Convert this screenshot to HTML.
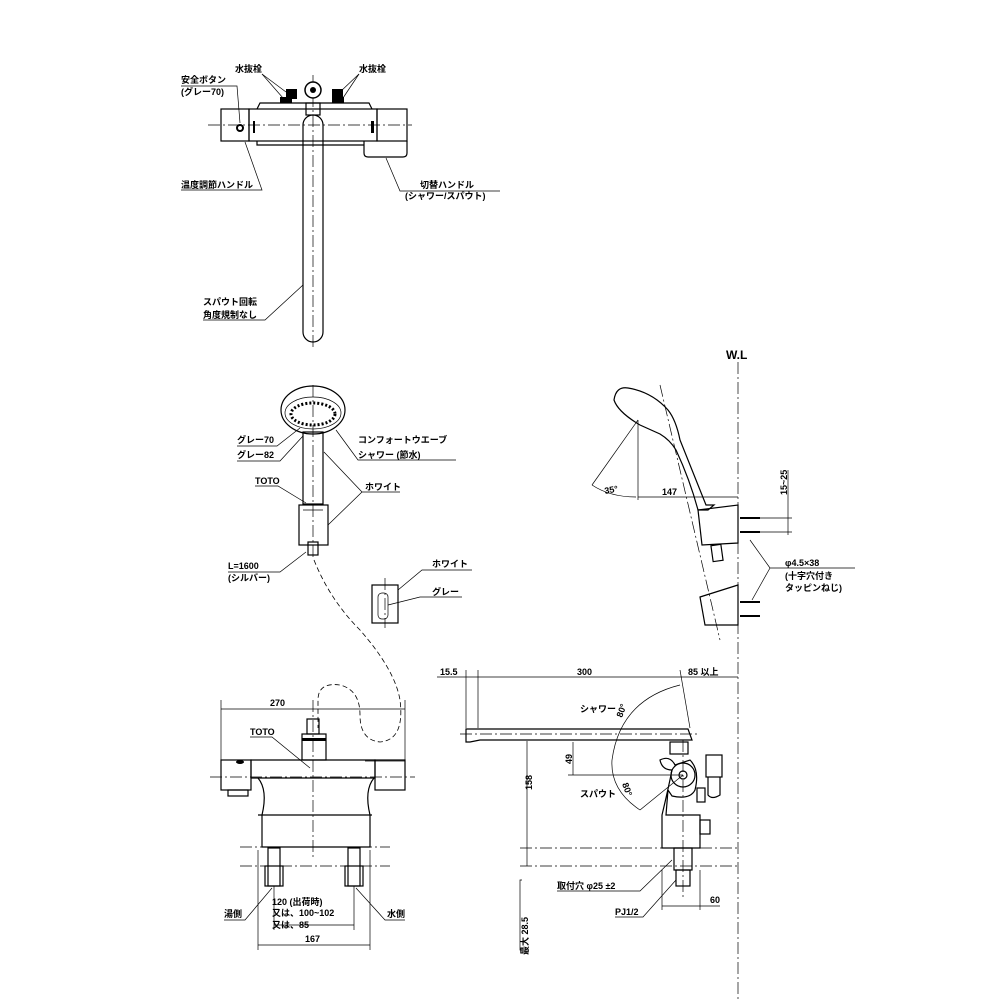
<!DOCTYPE html>
<html><head><meta charset="utf-8"><style>
body{margin:0;background:#fff}
svg{display:block}
text{font-family:"Liberation Sans","Noto Sans CJK JP",sans-serif;font-size:9px;font-weight:bold;fill:#000}
.l{stroke:#000;stroke-width:1.2;fill:none}
.t{stroke:#000;stroke-width:0.7;fill:none}
.c{stroke:#000;stroke-width:0.7;fill:none;stroke-dasharray:12 3 2 3}
.d{stroke:#000;stroke-width:0.8;fill:none;stroke-dasharray:5 3}
</style></head><body>
<svg width="1000" height="1000" viewBox="0 0 1000 1000" xmlns="http://www.w3.org/2000/svg">
<!-- TOP VIEW -->
<line class="c" x1="208" y1="125" x2="412" y2="125"/>
<line class="c" x1="313" y1="75" x2="313" y2="348"/>
<rect class="l" x="221" y="109" width="28" height="32"/>
<rect class="l" x="249" y="109" width="128" height="32"/>
<rect class="l" x="377" y="109" width="30" height="32"/>
<path class="l" d="M257 109 L260 103 L369 103 L372 109"/>
<path class="l" d="M257 141 V145 H364"/>
<path class="l" d="M364 141 V153 Q364 157 368 157 H403 Q407 157 407 153 V141"/>
<rect class="l" x="303" y="115" width="20" height="227" rx="10" fill="#fff"/>
<rect class="l" x="306" y="103" width="14" height="12" fill="#fff"/>
<circle cx="313" cy="90" r="8" fill="#fff" stroke="#000" stroke-width="1.5"/>
<circle cx="313" cy="90" r="3" fill="#000"/>
<rect x="286" y="89" width="11" height="10" fill="#000"/><rect x="280" y="97" width="12" height="6" fill="#000"/>
<rect x="332" y="89" width="11" height="10" fill="#000"/><rect x="332" y="97" width="12" height="6" fill="#000"/>
<circle cx="240" cy="128" r="3" fill="none" stroke="#000" stroke-width="2"/>
<rect x="253" y="121" width="2" height="12" fill="#000"/><rect x="371" y="121" width="3" height="12" fill="#000"/>
<text x="181" y="83">安全ボタン</text><text x="181" y="95">(グレー70)</text>
<polyline class="t" points="181,86 237,86 240,123"/>
<text x="235" y="72">水抜栓</text><polyline class="t" points="262,74 286,92"/><line class="t" x1="262" y1="74" x2="283" y2="98"/>
<text x="359" y="72">水抜栓</text><polyline class="t" points="359,74 340,92"/><line class="t" x1="359" y1="74" x2="343" y2="98"/>
<text x="181" y="188">温度調節ハンドル</text><polyline class="t" points="181,190 262,190 245,142"/>
<text x="420" y="188">切替ハンドル</text><text x="405" y="199">(シャワー/スパウト)</text>
<polyline class="t" points="500,191 400,191 386,158"/>
<text x="203" y="305">スパウト回転</text><text x="203" y="318">角度規制なし</text>
<polyline class="t" points="203,320 265,320 303,285"/>

<!-- SHOWER -->
<ellipse class="l" cx="313" cy="410" rx="32" ry="24"/>
<ellipse class="t" cx="313" cy="413" rx="28" ry="16"/>
<ellipse cx="313" cy="414" rx="22" ry="11" fill="none" stroke="#000" stroke-width="3" stroke-dasharray="2 2"/>
<rect class="l" x="303" y="432" width="20" height="72" fill="#fff"/>
<rect class="l" x="299" y="505" width="29" height="40" fill="#fff"/>
<line class="t" x1="303" y1="510" x2="323" y2="510"/>
<rect class="l" x="308" y="542" width="10" height="13" fill="#fff"/>
<line class="c" x1="313" y1="385" x2="313" y2="560"/>
<path class="d" d="M314 560 Q330 600 360 630 Q395 670 400 700 Q405 740 380 742 Q360 740 360 715 Q360 690 340 685 Q318 682 318 700 V728"/>
<text x="237" y="443">グレー70</text><text x="237" y="458">グレー82</text>
<polyline class="t" points="237,446 277,446 300,428"/><polyline class="t" points="237,461 280,461 303,436"/>
<text x="358" y="443">コンフォートウエーブ</text><text x="358" y="458">シャワー (節水)</text>
<polyline class="t" points="456,460 358,460 336,430"/>
<text x="255" y="484">TOTO</text><polyline class="t" points="255,486 278,486 306,503"/>
<text x="365" y="490">ホワイト</text><polyline class="t" points="400,492 362,492 324,452"/><line class="t" x1="362" y1="492" x2="328" y2="525"/>
<text x="228" y="569">L=1600</text><text x="228" y="581">(シルバー)</text>
<polyline class="t" points="228,572 280,572 306,552"/>
<rect class="l" x="372" y="585" width="26" height="38"/>
<rect class="t" x="378" y="593" width="10" height="26" rx="4"/>
<line class="c" x1="385" y1="578" x2="385" y2="628"/>
<text x="432" y="567">ホワイト</text><polyline class="t" points="472,570 422,570 398,590"/>
<text x="432" y="595">グレー</text><polyline class="t" points="462,597 420,597 388,605"/>

<!-- SIDE VIEW shower -->
<text x="726" y="359" style="font-size:12px">W.L</text>
<line class="c" x1="738" y1="362" x2="738" y2="1000"/>
<path class="l" d="M614 400 Q616 386 628 388 Q652 392 668 410 Q676 420 680 440 Q692 470 706 505 L714 505 L708 510 L698 510 Q690 480 676 450 Q670 440 660 434 L640 425 Q618 412 614 400Z"/>
<polygon class="l" points="698,510 738,505 738,543 702,545"/>
<rect class="l" x="712" y="545" width="10" height="16" transform="rotate(-8 717 553)"/>
<polygon class="l" points="700,597 738,585 738,625 705,625"/>
<g stroke="#000" stroke-width="2"><line x1="740" y1="518" x2="760" y2="518"/><line x1="740" y1="532" x2="760" y2="532"/><line x1="740" y1="602" x2="760" y2="602"/><line x1="740" y1="616" x2="760" y2="616"/></g>
<line class="c" x1="660" y1="385" x2="720" y2="640"/>
<line class="t" x1="638" y1="420" x2="638" y2="500"/>
<line class="t" x1="638" y1="420" x2="592" y2="485"/>
<path class="t" d="M592 485 Q610 497 636 497"/>
<line class="t" x1="638" y1="497" x2="738" y2="497"/>
<text x="605" y="494" transform="rotate(-10 605 494)">35°</text>
<text x="662" y="495">147</text>
<line class="t" x1="788" y1="470" x2="788" y2="535"/><line class="t" x1="760" y1="518" x2="792" y2="518"/><line class="t" x1="760" y1="532" x2="792" y2="532"/>
<text x="787" y="495" transform="rotate(-90 787 495)">15~25</text>
<text x="785" y="566">φ4.5×38</text><text x="785" y="579">(十字穴付き</text><text x="785" y="591">タッピンねじ)</text>
<polyline class="t" points="855,568 770,568 750,540"/><line class="t" x1="770" y1="568" x2="752" y2="600"/>

<!-- FRONT VIEW -->
<line class="t" x1="221" y1="700" x2="221" y2="760"/><line class="t" x1="405" y1="700" x2="405" y2="760"/>
<line class="t" x1="221" y1="709" x2="405" y2="709"/><text x="270" y="706">270</text>
<line class="c" x1="210" y1="777" x2="415" y2="777"/>
<line class="c" x1="313" y1="700" x2="313" y2="860"/>
<rect class="l" x="221" y="760" width="30" height="30"/>
<rect class="l" x="228" y="790" width="20" height="6"/>
<path class="l" d="M251 760 H375 V778 H251Z"/>
<rect class="l" x="375" y="760" width="30" height="30"/>
<line class="t" x1="365" y1="761" x2="405" y2="761"/>
<path class="l" d="M258 778 Q268 790 262 815 L262 847 H370 V815 Q364 790 374 778"/>
<line class="l" x1="258" y1="815" x2="372" y2="815"/>
<rect class="l" x="302" y="734" width="24" height="26"/>
<rect x="302" y="738" width="24" height="3" fill="#000"/>
<rect class="l" x="307" y="719" width="12" height="15"/>
<ellipse cx="240" cy="762" rx="4" ry="2" fill="#000"/>
<rect class="l" x="268" y="848" width="12" height="38"/><rect class="l" x="265" y="866" width="18" height="20"/>
<rect class="l" x="348" y="848" width="12" height="38"/><rect class="l" x="345" y="866" width="18" height="20"/>
<line class="c" x1="240" y1="847" x2="390" y2="847"/><line class="c" x1="240" y1="866" x2="390" y2="866"/>
<text x="250" y="735">TOTO</text><polyline class="t" points="250,737 272,737 310,768"/>
<text x="272" y="905">120 (出荷時)</text><text x="272" y="916">又は、100~102</text><text x="272" y="928">又は、85</text>
<line class="t" x1="274" y1="886" x2="274" y2="930"/><line class="t" x1="354" y1="886" x2="354" y2="930"/>
<line class="t" x1="274" y1="925" x2="354" y2="925"/>
<line class="t" x1="258" y1="850" x2="258" y2="950"/><line class="t" x1="370" y1="850" x2="370" y2="950"/>
<line class="t" x1="258" y1="945" x2="370" y2="945"/><text x="305" y="942">167</text>
<text x="224" y="917">湯側</text><polyline class="t" points="224,920 245,920 272,888"/>
<text x="387" y="917">水側</text><polyline class="t" points="405,920 385,920 356,888"/>

<!-- SIDE VIEW faucet -->
<line class="t" x1="437" y1="677" x2="738" y2="677"/>
<line class="t" x1="466" y1="670" x2="466" y2="728"/><line class="t" x1="478" y1="670" x2="478" y2="728"/>
<line class="t" x1="680" y1="670" x2="690" y2="728"/>
<text x="440" y="675">15.5</text><text x="577" y="675">300</text><text x="688" y="675">85 以上</text>
<path class="l" d="M466 729 H688 L692 740 H480 L470 742 H466Z"/>
<line class="c" x1="460" y1="734" x2="700" y2="734"/>
<rect class="l" x="670" y="742" width="18" height="12"/>
<path class="l" d="M660 760 Q670 755 675 765 L690 760 Q700 770 695 790 Q690 800 672 796 L668 790 L666 815 L700 815 L700 848 L662 848 L662 815 Q668 790 672 770 Q662 770 660 760Z"/>
<circle class="l" cx="683" cy="775" r="12"/><circle class="l" cx="683" cy="775" r="4"/>
<rect class="l" x="706" y="755" width="16" height="22"/><path class="l" d="M708 777 V795 Q712 800 720 795 V777"/>
<rect class="l" x="697" y="788" width="8" height="14"/><rect class="l" x="700" y="820" width="10" height="14"/>
<rect class="l" x="674" y="848" width="18" height="22"/><rect class="l" x="676" y="870" width="14" height="16"/>
<line class="c" x1="683" y1="740" x2="683" y2="900"/>
<line class="c" x1="520" y1="848" x2="738" y2="848"/><line class="c" x1="520" y1="866" x2="738" y2="866"/>
<line class="t" x1="527" y1="741" x2="527" y2="866"/><text x="532" y="790" transform="rotate(-90 532 790)">158</text>
<line class="t" x1="573" y1="742" x2="573" y2="775"/><line class="t" x1="568" y1="775" x2="683" y2="775"/>
<text x="572" y="764" transform="rotate(-90 572 764)">49</text>
<path class="t" d="M680 685 Q620 700 612 760 Q610 790 640 810"/>
<line class="t" x1="683" y1="775" x2="640" y2="810"/>
<text x="580" y="712">シャワー</text><text x="580" y="797">スパウト</text>
<text x="622" y="718" transform="rotate(-70 622 718)">80°</text>
<text x="622" y="784" transform="rotate(70 622 784)">80°</text>
<line class="t" x1="662" y1="870" x2="662" y2="910"/><line class="t" x1="700" y1="870" x2="700" y2="910"/>
<line class="t" x1="662" y1="906" x2="720" y2="906"/><text x="710" y="903">60</text>
<text x="557" y="889">取付穴 φ25 ±2</text><polyline class="t" points="557,891 640,891 672,860"/>
<text x="615" y="915">PJ1/2</text><polyline class="t" points="615,917 643,917 676,880"/>
<text x="528" y="955" transform="rotate(-90 528 955)">最大 28.5</text>
<polyline class="t" points="522,880 520,880 520,950 522,950"/>
</svg>
</body></html>
